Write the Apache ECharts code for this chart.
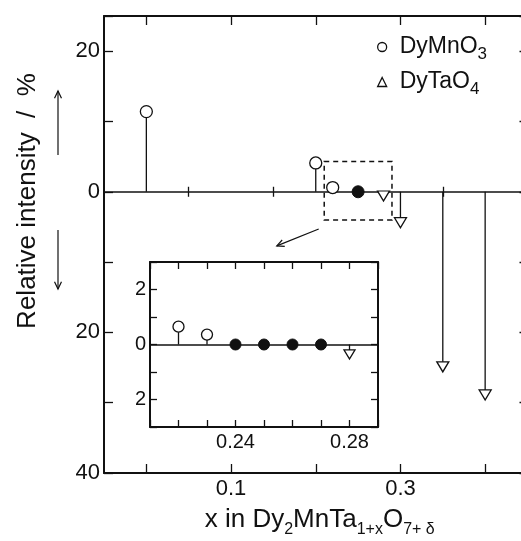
<!DOCTYPE html>
<html>
<head>
<meta charset="utf-8">
<script src="https://cdn.jsdelivr.net/npm/echarts@6/dist/echarts.min.js"></script>
<style>
html, body { margin: 0; padding: 0; background: #fff; }
#chart { width: 521px; height: 541px; }
</style>
</head>
<body>
<div id="chart"></div>
<script>
// main panel: [x, relative intensity / %]
const dyMnO3Main = [[0.0, 11.4], [0.2, 4.1], [0.22, 0.6]];
const dyTaO4Main = [[0.28, -0.6], [0.3, -4.4], [0.35, -24.9], [0.4, -28.9]];
const singleMain = [[0.25, 0]];

// inset, x from 0.21 to 0.29
const dyMnO3Inset = [[0.22, 0.65], [0.23, 0.36]];
const dyTaO4Inset = [[0.28, -0.36]];
const singleInset = [[0.24, 0], [0.25, 0], [0.26, 0], [0.27, 0]];

const mainMajorTicks = [0, 0.1, 0.2, 0.3, 0.4];
const mainMinorTicks = [0.05, 0.15, 0.25, 0.35];
const mainXLabels = [0.1, 0.3];
const insetXLabels = [0.24, 0.28];
const zoomBox = [[0.21, 4.3], [0.29, -4.0]];
// arrow from the dashed box down to the inset, in main data coords
const zoomArrow = [[0.2035, -5.3], [0.154, -7.7]];

const FONT = '"Liberation Sans", Arial, sans-serif';
const INK = '#111';
const DOWN_TRI = 'path://M0,0L12,0L6,10Z';

const openStyle = { color: '#fff', borderColor: INK, borderWidth: 1.3, opacity: 1 };
const filledStyle = { color: INK, borderColor: INK, borderWidth: 1, opacity: 1 };

function stem(params, api) {
    const x = api.value(0), y = api.value(1);
    const p0 = api.coord([x, 0]);
    const p1 = api.coord([x, y]);
    return {
        type: 'line',
        shape: { x1: p0[0], y1: p0[1], x2: p1[0], y2: p1[1] },
        style: { stroke: INK, lineWidth: 1.3 }
    };
}

function near(v, list) {
    return list.some(t => Math.abs(v - t) < 1e-6);
}

function subRich(size, drop) {
    return {
        s: { fontSize: size, fontFamily: FONT, color: INK, verticalAlign: 'bottom', lineHeight: size, padding: [0, 0, -drop, 0] }
    };
}

function xAxisBase(grid, pos, min, max) {
    return {
        type: 'value', gridIndex: grid, position: pos, min: min, max: max,
        splitLine: { show: false },
        axisLine: { show: true, onZero: false, lineStyle: { color: INK, width: 2 } },
        axisTick: { show: true, inside: true, length: 9, lineStyle: { color: INK, width: 1.3 } },
        axisLabel: { show: false }
    };
}

const xAxes = [
    Object.assign(xAxisBase(0, 'bottom', -0.05, 0.45), {
        axisTick: { show: true, inside: true, length: 9, customValues: mainMajorTicks, lineStyle: { color: INK, width: 1.3 } },
        axisLabel: {
            show: true, customValues: mainXLabels, margin: 5,
            fontSize: 22, fontFamily: FONT, color: INK,
            formatter: v => v.toFixed(1)
        },
        name: 'x in Dy{s|2}MnTa{s|1+x}O{s|7+ δ}',
        nameLocation: 'middle', nameGap: 22,
        nameTextStyle: { fontSize: 26, fontFamily: FONT, color: INK, lineHeight: 30, padding: [0, 0, 0, 8], rich: subRich(16, 3) }
    }),
    Object.assign(xAxisBase(0, 'bottom', -0.05, 0.45), {
        axisLine: { show: false },
        axisTick: { show: true, inside: true, length: 5, customValues: mainMinorTicks, lineStyle: { color: INK, width: 1.3 } }
    }),
    Object.assign(xAxisBase(0, 'top', -0.05, 0.45), {
        axisTick: { show: true, inside: true, length: 9, customValues: mainMajorTicks, lineStyle: { color: INK, width: 1.3 } }
    }),
    Object.assign(xAxisBase(0, 'top', -0.05, 0.45), {
        axisLine: { show: false },
        axisTick: { show: true, inside: true, length: 5, customValues: mainMinorTicks, lineStyle: { color: INK, width: 1.3 } }
    }),
    Object.assign(xAxisBase(1, 'bottom', 0.21, 0.29), {
        interval: 0.01,
        axisTick: { show: true, inside: true, length: 7, lineStyle: { color: INK, width: 1.3 } },
        axisLabel: {
            show: true, margin: 5, fontSize: 20, fontFamily: FONT, color: INK,
            formatter: v => near(v, insetXLabels) ? v.toFixed(2) : ''
        }
    }),
    Object.assign(xAxisBase(1, 'top', 0.21, 0.29), {
        interval: 0.01,
        axisTick: { show: true, inside: true, length: 7, lineStyle: { color: INK, width: 1.3 } }
    })
];

function yAxisBase(grid, pos, min, max, interval, tickLen) {
    return {
        type: 'value', gridIndex: grid, position: pos, min: min, max: max, interval: interval,
        splitLine: { show: false },
        axisLine: { show: true, onZero: false, lineStyle: { color: INK, width: 2 } },
        axisTick: { show: true, inside: true, length: tickLen, lineStyle: { color: INK, width: 1.3 } },
        axisLabel: { show: false }
    };
}

const yAxes = [
    Object.assign(yAxisBase(0, 'left', -40, 25, 10, 9), {
        axisLabel: {
            show: true, margin: 4, fontSize: 22, fontFamily: FONT, color: INK,
            formatter: v => (v % 20 === 0) ? String(Math.abs(v)) : ''
        }
    }),
    yAxisBase(0, 'right', -40, 25, 10, 8),
    Object.assign(yAxisBase(1, 'left', -3, 3, 1, 7), {
        axisLabel: {
            show: true, margin: 4, fontSize: 20, fontFamily: FONT, color: INK,
            formatter: v => (v % 2 === 0) ? String(Math.abs(v)) : ''
        }
    }),
    yAxisBase(1, 'right', -3, 3, 1, 7)
];

const zeroLine = {
    silent: true, symbol: 'none', label: { show: false },
    lineStyle: { color: INK, width: 1.5, type: 'solid' },
    data: [{ yAxis: 0 }]
};

const option = {
    animation: false,
    backgroundColor: '#fff',
    grid: [
        { left: 104, top: 16, width: 423.5, height: 457, show: false, outerBoundsMode: 'none' },
        { left: 150, top: 262, width: 228, height: 165, show: true, backgroundColor: '#fff', borderWidth: 0, outerBoundsMode: 'none' }
    ],
    xAxis: xAxes,
    yAxis: yAxes,
    legend: {
        orient: 'vertical', left: 377, top: 34, padding: 0,
        itemWidth: 9, itemHeight: 9, itemGap: 6,
        selectedMode: false,
        data: [
            { name: 'DyMnO3', icon: 'circle', itemStyle: openStyle },
            { name: 'DyTaO4', icon: 'triangle', itemStyle: openStyle }
        ],
        formatter: name => name === 'DyMnO3' ? 'DyMnO{s|3}' : 'DyTaO{s|4}',
        textStyle: { fontSize: 23, fontFamily: FONT, color: INK, lineHeight: 26, padding: [0, 0, 0, 8], rich: subRich(17, 3) }
    },
    series: [
        {
            type: 'custom', name: 'stems', xAxisIndex: 0, yAxisIndex: 0,
            renderItem: stem, data: dyMnO3Main.concat(dyTaO4Main), z: 2
        },
        {
            type: 'scatter', name: 'DyMnO3', xAxisIndex: 0, yAxisIndex: 0,
            symbol: 'circle', symbolSize: 12, itemStyle: openStyle, data: dyMnO3Main, z: 5
        },
        {
            type: 'scatter', name: 'DyTaO4', xAxisIndex: 0, yAxisIndex: 0,
            symbol: DOWN_TRI, symbolSize: [12, 10], itemStyle: openStyle, data: dyTaO4Main, z: 5
        },
        {
            type: 'scatter', name: 'single', xAxisIndex: 0, yAxisIndex: 0,
            symbol: 'circle', symbolSize: 12, itemStyle: filledStyle, data: singleMain, z: 5,
            markLine: zeroLine,
            markArea: {
                silent: true,
                itemStyle: { color: 'rgba(0,0,0,0)', borderColor: INK, borderWidth: 1.5, borderType: [5, 4] },
                data: [[{ coord: zoomBox[0] }, { coord: zoomBox[1] }]]
            }
        },
        {
            type: 'custom', name: 'stems inset', xAxisIndex: 4, yAxisIndex: 2,
            renderItem: stem, data: dyMnO3Inset.concat(dyTaO4Inset), z: 2
        },
        {
            type: 'scatter', name: 'DyMnO3 inset', xAxisIndex: 4, yAxisIndex: 2,
            symbol: 'circle', symbolSize: 11, itemStyle: openStyle, data: dyMnO3Inset, z: 5
        },
        {
            type: 'scatter', name: 'DyTaO4 inset', xAxisIndex: 4, yAxisIndex: 2,
            symbol: DOWN_TRI, symbolSize: [11, 9], itemStyle: openStyle, data: dyTaO4Inset, z: 5
        },
        {
            type: 'scatter', name: 'single inset', xAxisIndex: 4, yAxisIndex: 2,
            symbol: 'circle', symbolSize: 11, itemStyle: filledStyle, data: singleInset, z: 5,
            markLine: zeroLine
        }
    ]
};

const chart = echarts.init(document.getElementById('chart'), null, { renderer: 'canvas' });
chart.setOption(option);

// annotations: y title with its two arrows, and the arrow pointing at the inset
function arrowHead(tip, from, len, spread) {
    const a = Math.atan2(from[1] - tip[1], from[0] - tip[0]);
    return [
        [tip[0] + len * Math.cos(a + spread), tip[1] + len * Math.sin(a + spread)],
        tip,
        [tip[0] + len * Math.cos(a - spread), tip[1] + len * Math.sin(a - spread)]
    ];
}

function arrow(from, to) {
    return [
        { type: 'line', shape: { x1: from[0], y1: from[1], x2: to[0], y2: to[1] }, style: { stroke: INK, lineWidth: 1.2 } },
        { type: 'polyline', shape: { points: arrowHead(to, from, 8, 0.45) }, style: { stroke: INK, lineWidth: 1.2, fill: null } }
    ];
}

const a0 = chart.convertToPixel({ gridIndex: 0 }, zoomArrow[0]);
const a1 = chart.convertToPixel({ gridIndex: 0 }, zoomArrow[1]);

chart.setOption({
    graphic: [
        {
            type: 'text', x: 28, y: 201, rotation: Math.PI / 2,
            style: {
                text: 'Relative intensity  /  %', font: '26px ' + FONT, fill: INK,
                align: 'center', verticalAlign: 'middle'
            }
        }
    ].concat(arrow([58, 155], [58, 91]), arrow([58, 230], [58, 289]), arrow(a0, a1))
});
</script>
</body>
</html>
